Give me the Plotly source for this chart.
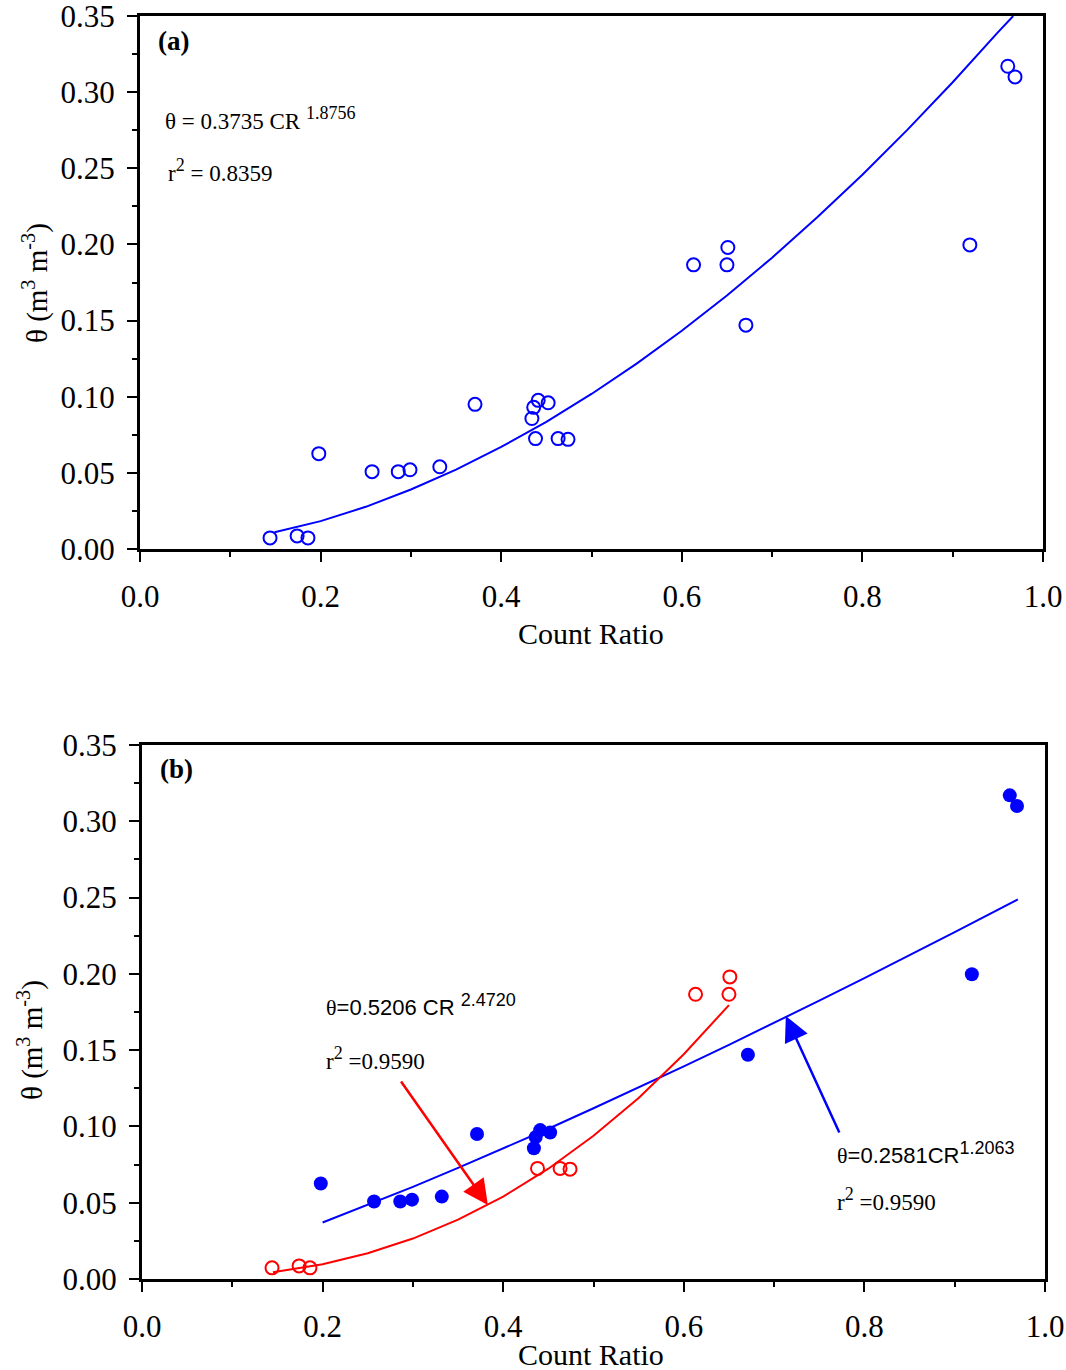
import plotly.graph_objects as go

# ---------------- data ----------------
# panel (a): all observations (open blue circles)
cr_all = [0.144, 0.174, 0.186, 0.198, 0.257, 0.286, 0.299, 0.332, 0.371, 0.434, 0.436,
          0.441, 0.452, 0.438, 0.463, 0.474, 0.613, 0.651, 0.650, 0.671, 0.919, 0.961, 0.969]
th_all = [0.0073, 0.0086, 0.0073, 0.0626, 0.0508, 0.0508, 0.0520, 0.0540, 0.0950, 0.0857, 0.0930,
          0.0976, 0.0960, 0.0725, 0.0725, 0.0720, 0.1866, 0.1980, 0.1866, 0.1470, 0.1997, 0.3170, 0.3100]

# panel (a) fitted curve
fit_a_cr = [0.149, 0.20, 0.25, 0.30, 0.35, 0.40, 0.45, 0.50, 0.55, 0.60, 0.65, 0.70,
            0.75, 0.80, 0.85, 0.90, 0.95, 0.967]
fit_a_th = [0.0110, 0.0183, 0.0277, 0.0391, 0.0521, 0.0670, 0.0835, 0.1018, 0.1217, 0.1433,
            0.1665, 0.1913, 0.2178, 0.2458, 0.2754, 0.3065, 0.3392, 0.3500]

# panel (b): blue filled group
cr_blue = [0.198, 0.257, 0.286, 0.299, 0.332, 0.371, 0.434, 0.436, 0.441, 0.452, 0.671, 0.919, 0.961, 0.969]
th_blue = [0.0626, 0.0508, 0.0508, 0.0520, 0.0540, 0.0950, 0.0857, 0.0930, 0.0976, 0.0960, 0.1470,
           0.1997, 0.3170, 0.3100]
# panel (b): red open group
cr_red = [0.144, 0.174, 0.186, 0.438, 0.463, 0.474, 0.613, 0.651, 0.650]
th_red = [0.0073, 0.0086, 0.0073, 0.0725, 0.0725, 0.0720, 0.1866, 0.1980, 0.1866]

fit_blue_cr = [0.20, 0.25, 0.30, 0.35, 0.40, 0.45, 0.50, 0.55, 0.60, 0.65, 0.70, 0.75,
               0.80, 0.85, 0.90, 0.97]
fit_blue_th = [0.0370, 0.0485, 0.0604, 0.0728, 0.0855, 0.0985, 0.1119, 0.1255, 0.1394, 0.1535,
               0.1678, 0.1824, 0.1972, 0.2122, 0.2273, 0.2488]

fit_red_cr = [0.145, 0.20, 0.25, 0.30, 0.35, 0.40, 0.45, 0.50, 0.55, 0.60, 0.65]
fit_red_th = [0.0044, 0.0097, 0.0169, 0.0265, 0.0389, 0.0540, 0.0723, 0.0939, 0.1187, 0.1473, 0.1795]

x_ticks = [0.0, 0.2, 0.4, 0.6, 0.8, 1.0]
y_ticks = [0.00, 0.05, 0.10, 0.15, 0.20, 0.25, 0.30, 0.35]

BLUE = "#0000FF"
RED = "#FF0000"
SERIF = "Liberation Serif, Times New Roman, serif"
SANS = "Liberation Sans, Arial, sans-serif"

fig = go.Figure()

# panel (a)
fig.add_trace(go.Scatter(x=fit_a_cr, y=fit_a_th, mode="lines", line=dict(color=BLUE, width=2),
                         xaxis="x", yaxis="y", showlegend=False, cliponaxis=True))
fig.add_trace(go.Scatter(x=cr_all, y=th_all, mode="markers",
                         marker=dict(symbol="circle-open", size=13, color=BLUE, line=dict(width=2, color=BLUE)),
                         xaxis="x", yaxis="y", showlegend=False))

# panel (b)
fig.add_trace(go.Scatter(x=fit_blue_cr, y=fit_blue_th, mode="lines", line=dict(color=BLUE, width=2),
                         xaxis="x2", yaxis="y2", showlegend=False))
fig.add_trace(go.Scatter(x=fit_red_cr, y=fit_red_th, mode="lines", line=dict(color=RED, width=2),
                         xaxis="x2", yaxis="y2", showlegend=False))
fig.add_trace(go.Scatter(x=cr_blue, y=th_blue, mode="markers",
                         marker=dict(symbol="circle", size=14, color=BLUE),
                         xaxis="x2", yaxis="y2", showlegend=False))
fig.add_trace(go.Scatter(x=cr_red, y=th_red, mode="markers",
                         marker=dict(symbol="circle-open", size=13, color=RED, line=dict(width=2, color=RED)),
                         xaxis="x2", yaxis="y2", showlegend=False))

W, H = 1066, 1370

def xaxis_def(dom, anchor):
    return dict(domain=dom, anchor=anchor, range=[0, 1.0], tickvals=x_ticks, tickformat=".1f",
                showgrid=False, zeroline=False, showline=True, linecolor="black", linewidth=3,
                mirror=True, ticks="outside", ticklen=10, tickwidth=2, tickcolor="black",
                minor=dict(dtick=0.1, ticks="outside", ticklen=5, tickwidth=2, tickcolor="black"),
                tickfont=dict(family=SERIF, size=31, color="black"), ticklabelstandoff=8,
                ticklabeloverflow="allow", automargin=False)

def yaxis_def(dom, anchor):
    return dict(domain=dom, anchor=anchor, range=[0, 0.35], tickvals=y_ticks, tickformat=".2f",
                showgrid=False, zeroline=False, showline=True, linecolor="black", linewidth=3,
                mirror=True, ticks="outside", ticklen=10, tickwidth=2, tickcolor="black",
                minor=dict(dtick=0.025, ticks="outside", ticklen=5, tickwidth=2, tickcolor="black"),
                tickfont=dict(family=SERIF, size=31, color="black"), ticklabelstandoff=6,
                ticklabeloverflow="allow", automargin=False)

fig.update_layout(
    width=W, height=H, margin=dict(l=0, r=0, t=0, b=0),
    paper_bgcolor="white", plot_bgcolor="white",
    xaxis=xaxis_def([140 / W, 1043 / W], "y"),
    yaxis=yaxis_def([1 - 549 / H, 1 - 16 / H], "x"),
    xaxis2=xaxis_def([142 / W, 1045 / W], "y2"),
    yaxis2=yaxis_def([1 - 1279 / H, 1 - 745 / H], "x2"),
)

annots = []
# axis titles
for yc in [633, 1354]:
    annots.append(dict(xref="paper", yref="paper", x=591 / W, y=1 - yc / H, text="Count Ratio",
                       showarrow=False, xanchor="center", yanchor="middle",
                       font=dict(family=SERIF, size=30, color="black")))
for xc, yc in [(35, 283), (30, 1040)]:
    annots.append(dict(xref="paper", yref="paper", x=xc / W, y=1 - yc / H,
                       text="θ (m<sup>3</sup> m<sup>-3</sup>)", textangle=-90,
                       showarrow=False, xanchor="center", yanchor="middle",
                       font=dict(family=SERIF, size=29, color="black")))

# panel labels
annots.append(dict(xref="x", yref="y", x=0.018, y=0.3336, text="<b>(a)</b>", showarrow=False,
                   xanchor="left", yanchor="middle", font=dict(family=SERIF, size=27, color="black")))
annots.append(dict(xref="x2", yref="y2", x=0.018, y=0.334, text="<b>(b)</b>", showarrow=False,
                   xanchor="left", yanchor="middle", font=dict(family=SERIF, size=27, color="black")))

SUP = "<sup><span style='font-size:18px'>{}</span></sup>"

# panel (a) equation
annots.append(dict(xref="x", yref="y", x=0.026, y=0.2828,
                   text="θ = 0.3735 CR " + SUP.format("1.8756"), showarrow=False,
                   xanchor="left", yanchor="middle", font=dict(family=SERIF, size=23, color="black")))
annots.append(dict(xref="x", yref="y", x=0.029, y=0.2485,
                   text="r" + SUP.format("2") + " = 0.8359", showarrow=False,
                   xanchor="left", yanchor="middle", font=dict(family=SERIF, size=23, color="black")))

# panel (b) equations
annots.append(dict(xref="x2", yref="y2", x=0.2015, y=0.1796,
                   text="<span style='font-family:Liberation Serif'>θ</span>=0.5206 CR " + SUP.format("2.4720"),
                   showarrow=False, xanchor="left", yanchor="middle",
                   font=dict(family=SANS, size=22, color="black")))
annots.append(dict(xref="x2", yref="y2", x=0.2015, y=0.1448,
                   text="r" + SUP.format("2") + " =0.9590", showarrow=False,
                   xanchor="left", yanchor="middle", font=dict(family=SERIF, size=23, color="black")))
annots.append(dict(xref="x2", yref="y2", x=0.7674, y=0.0826,
                   text="<span style='font-family:Liberation Serif'>θ</span>=0.2581CR" + SUP.format("1.2063"),
                   showarrow=False, xanchor="left", yanchor="middle",
                   font=dict(family=SANS, size=22, color="black")))
annots.append(dict(xref="x2", yref="y2", x=0.7674, y=0.0518,
                   text="r" + SUP.format("2") + " =0.9590", showarrow=False,
                   xanchor="left", yanchor="middle", font=dict(family=SERIF, size=23, color="black")))

# arrows
annots.append(dict(xref="x2", yref="y2", axref="x2", ayref="y2", x=0.383, y=0.0485, ax=0.2857, ay=0.1304,
                   text="", showarrow=True, arrowhead=2, arrowsize=2.0, arrowwidth=2.5, arrowcolor=RED))
annots.append(dict(xref="x2", yref="y2", axref="x2", ayref="y2", x=0.713, y=0.1723, ax=0.773, ay=0.095,
                   text="", showarrow=True, arrowhead=2, arrowsize=2.0, arrowwidth=2.5, arrowcolor=BLUE))

fig.update_layout(annotations=annots)

fig.write_html("out.html")
